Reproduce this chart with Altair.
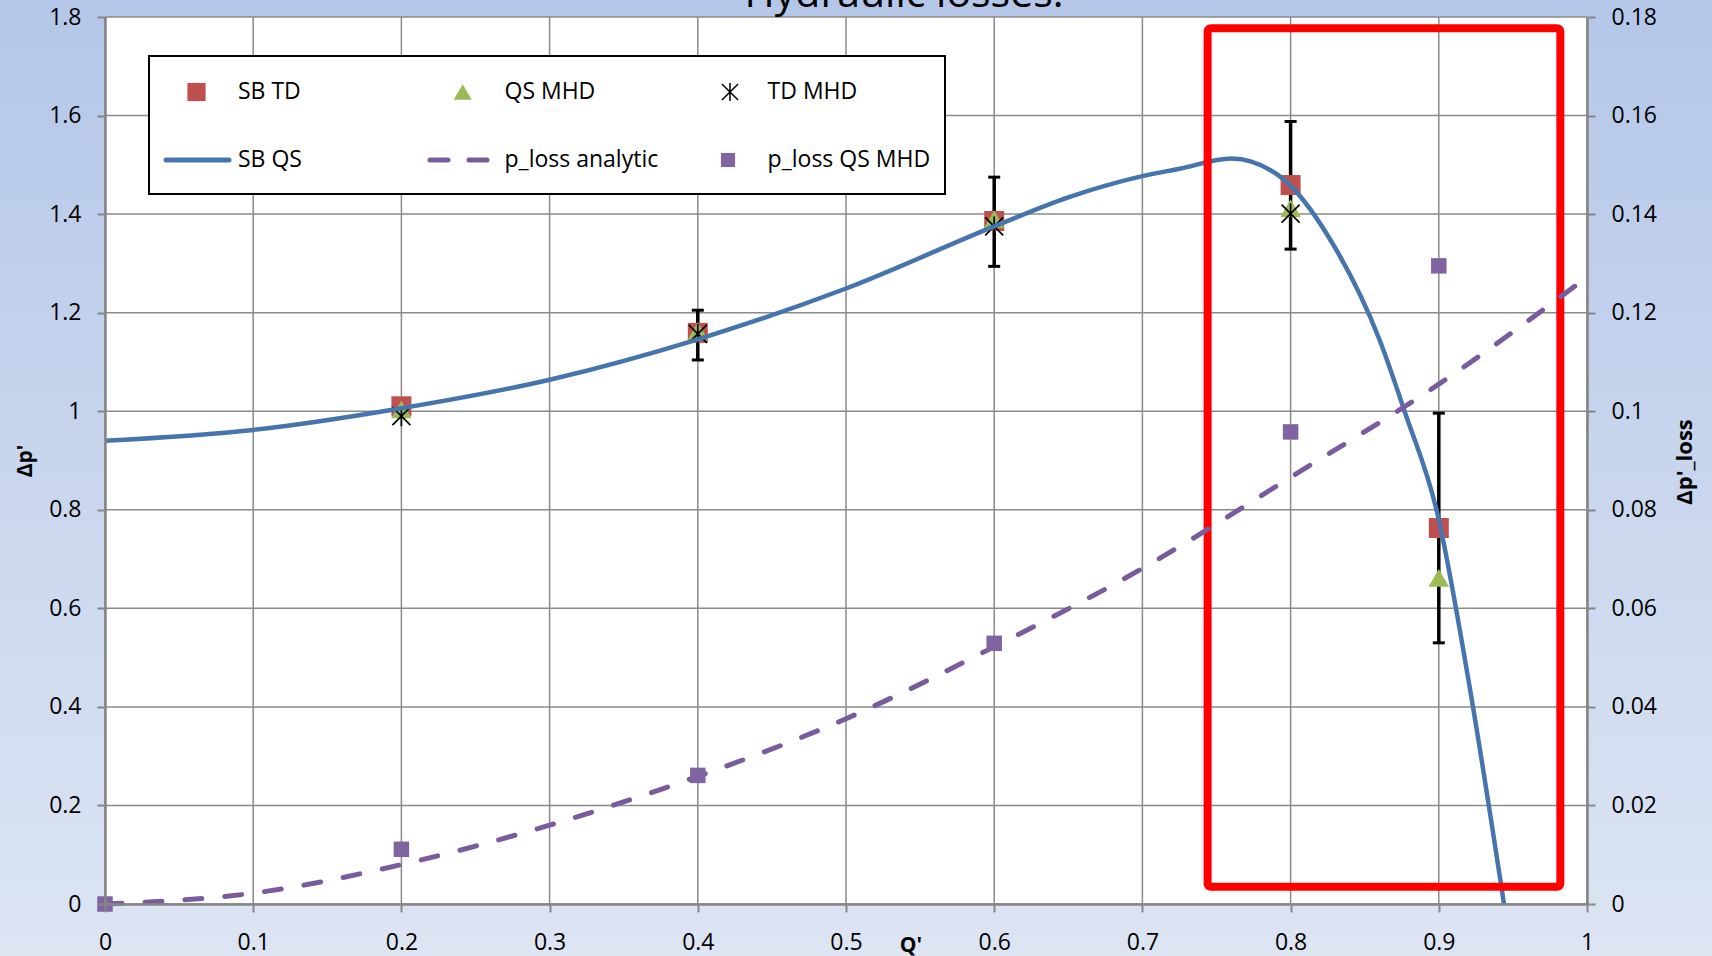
import altair as alt
import pandas as pd

# ---------------- data ----------------
q_markers = [0.2, 0.4, 0.6, 0.8, 0.9]
sb_td = [1.010, 1.159, 1.386, 1.459, 0.763]
qs_mhd = [1.004, 1.163, 1.390, 1.412, 0.662]

td_mhd_q = [0.2, 0.4, 0.6, 0.8]
td_mhd = [0.990, 1.157, 1.375, 1.401]

err_q = [0.4, 0.6, 0.8, 0.9]
err_low = [1.104, 1.294, 1.329, 0.530]
err_high = [1.205, 1.475, 1.588, 0.996]

sb_qs_q = [0.0, 0.1, 0.2, 0.3, 0.4, 0.5, 0.6, 0.65, 0.7, 0.725, 0.76, 0.793, 0.827, 0.86, 0.877, 0.899, 0.92, 0.944]
sb_qs = [0.940, 0.962, 1.006, 1.064, 1.146, 1.249, 1.375, 1.434, 1.477, 1.492, 1.513, 1.476, 1.347, 1.145, 0.999, 0.793, 0.455, 0.0]

ploss_an_q = [0.0, 0.1, 0.2, 0.3, 0.4, 0.5, 0.6, 0.7, 0.8, 0.9, 1.0]
ploss_an = [0.0, 0.0022, 0.0080, 0.0160, 0.0259, 0.0376, 0.0522, 0.0681, 0.0866, 0.1055, 0.1272]

ploss_q = [0.0, 0.2, 0.4, 0.6, 0.8, 0.9]
ploss_qs_mhd = [0.0, 0.0111, 0.0261, 0.0529, 0.0958, 0.1295]

x_ticks = [0, 0.1, 0.2, 0.3, 0.4, 0.5, 0.6, 0.7, 0.8, 0.9, 1]
y_ticks = [0, 0.2, 0.4, 0.6, 0.8, 1, 1.2, 1.4, 1.6, 1.8]
y2_ticks = [0, 0.02, 0.04, 0.06, 0.08, 0.1, 0.12, 0.14, 0.16, 0.18]

box_x = [0.744, 0.982]
box_y = [0.035, 1.777]

# ---------------- style ----------------
W, H = 1482, 887
PADL, PADT, PADR, PADB = 105, 17, 125, 52
FONT = "Open Sans"
GRID = "#8a8a8a"
AXC = "#868686"
RED = "#c0504d"
GREEN = "#9bbb59"
PURPLE = "#8064a2"
DASHP = "#7a5c9e"
BLUE = "#4674ad"
AST = "M-0.9,-0.9L0.9,0.9M-0.9,0.9L0.9,-0.9M0,-1L0,1"

x_scale = alt.Scale(domain=[0, 1], nice=False, zero=False)
yl_scale = alt.Scale(domain=[0, 1.8], nice=False)
yr_scale = alt.Scale(domain=[0, 0.18], nice=False)

ax = dict(grid=False, domainColor=AXC, domainWidth=2.5, tickColor=AXC, tickWidth=2,
          tickSize=8, labelFont=FONT, labelFontSize=23, labelColor="black",
          title=None, zindex=1, format="~g", labelFlush=False,
          labelOverlap=False, labelBound=False)
x_axis = alt.Axis(values=x_ticks, orient="bottom", labelPadding=19, **ax)
yl_axis = alt.Axis(values=y_ticks, orient="left", labelPadding=16, **ax)
yr_axis = alt.Axis(values=y2_ticks, orient="right", labelPadding=16, **ax)


def X(f):
    return alt.X(f, type="quantitative", scale=x_scale, axis=x_axis)


def YL(f):
    return alt.Y(f, type="quantitative", scale=yl_scale, axis=yl_axis)


def YR(f):
    return alt.Y(f, type="quantitative", scale=yr_scale, axis=yr_axis)


one = pd.DataFrame({"a": [0]})

grad = alt.LinearGradient(
    gradient="linear",
    stops=[alt.GradientStop(color="#b4c7e8", offset=0),
           alt.GradientStop(color="#dde5f3", offset=1)],
    x1=0, x2=0, y1=0, y2=1)

bg = alt.Chart(one).mark_rect(fill=grad).encode(
    x=alt.value(-PADL), x2=alt.value(W + PADR), y=alt.value(-PADT), y2=alt.value(H + PADB))
white = alt.Chart(one).mark_rect(fill="white").encode(
    x=alt.value(0), x2=alt.value(W), y=alt.value(0), y2=alt.value(H))

# ---------------- left group ----------------
vgrid = alt.Chart(pd.DataFrame({"v": x_ticks})).mark_rule(color=GRID, strokeWidth=1.5).encode(x=X("v"))
hgrid = alt.Chart(pd.DataFrame({"v": y_ticks})).mark_rule(color=GRID, strokeWidth=1.5).encode(y=YL("v"))

err_df = pd.DataFrame({"q": err_q, "lo": err_low, "hi": err_high})
err_rule = alt.Chart(err_df).mark_rule(color="black", strokeWidth=3.5).encode(
    x=X("q"), y=YL("lo"), y2=alt.Y2("hi"))
cap_lo = alt.Chart(err_df).mark_tick(color="black", orient="horizontal", size=12, thickness=3, opacity=1).encode(
    x=X("q"), y=YL("lo"))
cap_hi = alt.Chart(err_df).mark_tick(color="black", orient="horizontal", size=12, thickness=3, opacity=1).encode(
    x=X("q"), y=YL("hi"))

mk_df = pd.DataFrame({"q": q_markers, "sb_td": sb_td, "qs_mhd": qs_mhd})
sq = alt.Chart(mk_df).mark_point(shape="square", filled=True, size=400, color=RED, opacity=1).encode(
    x=X("q"), y=YL("sb_td"))
tri = alt.Chart(mk_df).mark_point(shape="triangle-up", filled=True, size=420, color=GREEN, opacity=1).encode(
    x=X("q"), y=YL("qs_mhd"))
td_df = pd.DataFrame({"q": td_mhd_q, "v": td_mhd})
ast = alt.Chart(td_df).mark_point(shape=AST, filled=False, size=400, color="black", strokeWidth=1.7, opacity=1).encode(
    x=X("q"), y=YL("v"))

sbqs_df = pd.DataFrame({"q": sb_qs_q, "v": sb_qs})
sbqs = alt.Chart(sbqs_df).mark_line(color=BLUE, strokeWidth=4.5, interpolate="monotone").encode(
    x=X("q"), y=YL("v"))

box_df = pd.DataFrame({"x0": [box_x[0]], "x1": [box_x[1]], "y0": [box_y[0]], "y1": [box_y[1]]})
box = alt.Chart(box_df).mark_rect(fillOpacity=0, stroke="#ff0000", strokeWidth=8, cornerRadius=3).encode(
    x=X("x0"), x2=alt.X2("x1"), y=YL("y0"), y2=alt.Y2("y1"))

left = alt.layer(vgrid, hgrid, err_rule, cap_lo, cap_hi, sq, tri, ast, sbqs, box)

# ---------------- right group ----------------
an_df = pd.DataFrame({"q": ploss_an_q, "v": ploss_an})
an_line = alt.Chart(an_df).mark_line(color=DASHP, strokeWidth=5, strokeDash=[17, 23], strokeCap="round",
                                     interpolate="monotone").encode(x=X("q"), y=YR("v"))
pl_df = pd.DataFrame({"q": ploss_q, "v": ploss_qs_mhd})
pl = alt.Chart(pl_df).mark_point(shape="square", filled=True, size=240, color=PURPLE, opacity=1).encode(
    x=X("q"), y=YR("v"))
right = alt.layer(an_line, pl)

# ---------------- legend & titles ----------------
def txt(s, x, y, size=23, weight="normal", angle=0, align="left", baseline="middle"):
    return alt.Chart(one).mark_text(text=s, font=FONT, fontSize=size, fontWeight=weight, angle=angle,
                                    align=align, baseline=baseline, color="black").encode(
        x=alt.value(x), y=alt.value(y))


def sym(shape, x, y, size, color, filled=True, sw=1):
    return alt.Chart(one).mark_point(shape=shape, filled=filled, size=size, color=color, opacity=1,
                                     strokeWidth=sw).encode(x=alt.value(x), y=alt.value(y))


R1, R2 = 75, 143
leg_box = alt.Chart(one).mark_rect(fill="white", stroke="black", strokeWidth=2).encode(
    x=alt.value(44), x2=alt.value(840), y=alt.value(39), y2=alt.value(177))
leg = [
    leg_box,
    sym("square", 91.5, R1, 330, RED),
    txt("SB TD", 133, R1),
    sym("triangle-up", 357.7, R1, 330, GREEN),
    txt("QS MHD", 399.5, R1),
    sym(AST, 625, R1, 320, "black", filled=False, sw=1.5),
    txt("TD MHD", 662.6, R1),
    alt.Chart(one).mark_rule(color=BLUE, strokeWidth=5, strokeCap="round").encode(
        x=alt.value(61), x2=alt.value(124), y=alt.value(R2)),
    txt("SB QS", 133, R2),
    alt.Chart(one).mark_rule(color=DASHP, strokeWidth=5, strokeCap="round", strokeDash=[18, 21]).encode(
        x=alt.value(325), x2=alt.value(383), y=alt.value(R2)),
    txt("p_loss analytic", 399.5, R2),
    sym("square", 623, R2, 200, PURPLE),
    txt("p_loss QS MHD", 662.6, R2),
]

titles = [
    txt("Hydraulic losses.", 799, -10, size=41, align="center", baseline="alphabetic"),
    txt("Δp'", -79, 444, size=21, weight="bold", angle=270, align="center"),
    txt("Δp'_loss", 1580, 445, size=22, weight="bold", angle=270, align="center"),
    txt("Q'", 806, 935, size=21, weight="bold", align="center", baseline="alphabetic"),
]

chart = alt.layer(bg, white, left, right, *leg, *titles).resolve_scale(y="independent").properties(
    width=W, height=H,
    padding={"left": PADL, "top": PADT, "right": PADR, "bottom": PADB},
    autosize=alt.AutoSizeParams(type="none"),
).configure_view(strokeWidth=0)

chart.save("out.html", embed_options={"renderer": "svg", "actions": False})
